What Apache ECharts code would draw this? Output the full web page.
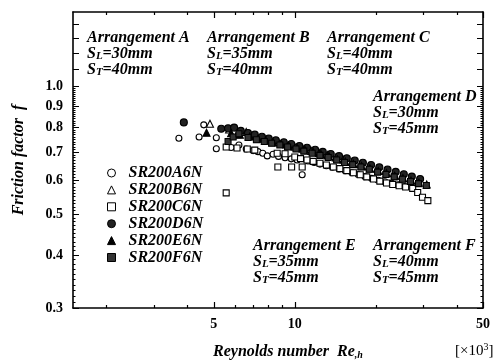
<!DOCTYPE html>
<html><head><meta charset="utf-8">
<script src="https://cdn.jsdelivr.net/npm/echarts@6/dist/echarts.min.js"></script>
<style>html,body{margin:0;padding:0;background:#fff}#c{width:493px;height:361px}</style>
</head><body><div id="c"></div>
<script>
const seriesNames = ['SR200A6N','SR200B6N','SR200C6N','SR200D6N','SR200E6N','SR200F6N'];
// [Re_h (x10^3), friction factor f]
const dataA = [[3.71,0.755],[4.41,0.760],[4.59,0.812],[5.11,0.757],[5.11,0.713],[5.80,0.718],[6.20,0.728],[6.60,0.712],[7.00,0.706],[7.30,0.702],[7.60,0.696],[7.90,0.686],[8.30,0.692],[8.70,0.684],[9.20,0.679],[9.70,0.675],[10.20,0.671],[10.65,0.619],[11.20,0.667],[11.80,0.662],[12.40,0.656],[13.10,0.650],[13.80,0.645],[14.60,0.639],[15.40,0.633],[16.30,0.626],[17.20,0.620],[18.20,0.613],[19.30,0.607],[20.40,0.601],[21.60,0.596],[22.90,0.591],[24.20,0.586],[25.60,0.581]];
const dataB = [[4.84,0.817],[5.70,0.792],[6.10,0.772],[6.60,0.781],[7.10,0.763],[7.60,0.754],[8.10,0.746],[8.70,0.738],[9.30,0.730],[10.00,0.721],[10.70,0.713],[11.50,0.705],[12.30,0.697],[13.20,0.689],[14.20,0.680],[15.20,0.672],[16.30,0.664],[17.50,0.656],[18.80,0.648],[20.20,0.640],[21.70,0.632],[23.30,0.624],[25.00,0.616],[26.80,0.608],[28.70,0.600]];
const dataC = [[5.56,0.561],[5.56,0.720],[6.10,0.716],[6.66,0.712],[7.10,0.708],[8.60,0.696],[9.20,0.694],[8.65,0.646],[9.73,0.646],[10.65,0.646],[10.00,0.682],[10.50,0.676],[11.10,0.671],[11.70,0.666],[12.40,0.659],[13.10,0.653],[13.90,0.646],[14.70,0.640],[15.60,0.633],[16.50,0.626],[17.50,0.619],[18.50,0.612],[19.60,0.605],[20.70,0.598],[21.90,0.592],[23.10,0.587],[24.40,0.583],[25.80,0.579],[27.40,0.575],[28.60,0.562],[29.80,0.548],[31.20,0.538]];
const dataD = [[3.87,0.823],[5.33,0.795],[5.65,0.797],[5.95,0.800],[6.30,0.786],[6.70,0.777],[7.10,0.770],[7.55,0.761],[8.00,0.754],[8.50,0.747],[9.10,0.739],[9.70,0.732],[10.40,0.724],[11.10,0.717],[11.90,0.709],[12.70,0.701],[13.60,0.693],[14.60,0.685],[15.60,0.677],[16.70,0.669],[17.90,0.661],[19.20,0.653],[20.60,0.645],[22.10,0.637],[23.70,0.629],[25.40,0.621],[27.20,0.613],[29.20,0.605]];
const dataE = [[4.70,0.778],[5.80,0.776],[6.25,0.770],[6.80,0.762],[7.30,0.753],[7.80,0.746],[8.30,0.739],[8.90,0.732],[9.50,0.725],[10.20,0.717],[10.90,0.709],[11.70,0.701],[12.50,0.693],[13.40,0.685],[14.40,0.674],[15.40,0.665],[16.50,0.657],[17.70,0.649],[19.00,0.641],[20.40,0.632],[21.90,0.624],[23.50,0.616],[25.20,0.608],[27.00,0.600],[28.90,0.593],[30.90,0.587]];
const dataF = [[5.65,0.742],[5.90,0.760],[6.20,0.774],[6.70,0.758],[7.20,0.749],[7.70,0.742],[8.20,0.735],[8.80,0.728],[9.40,0.720],[10.10,0.712],[10.80,0.704],[11.60,0.696],[12.40,0.688],[13.30,0.680],[14.30,0.671],[15.30,0.662],[16.40,0.654],[17.60,0.646],[18.90,0.638],[20.30,0.628],[21.80,0.620],[23.40,0.612],[25.10,0.604],[26.90,0.597],[28.80,0.590],[30.80,0.584]];

const xLabelValues = [5, 10, 50];
const xMinorTicks = [2, 3, 4, 6, 7, 8, 9, 20, 30, 40];
const yLabelValues = [0.3, 0.4, 0.5, 0.6, 0.7, 0.8, 0.9, 1.0];
const yUpperTicks = [1.1, 1.2, 1.3, 1.4];
const yMinorTicks = [];
for (let i = 31; i < 100; i++) { if (i % 10 !== 0) yMinorTicks.push(i / 100); }

const FF = '"Liberation Serif", "Times New Roman", serif';
const BI16 = 'italic bold 16px ' + FF;
const BI11 = 'italic bold 11px ' + FF;

function xAx(pos, ticks, len, showLine, showLabel) {
  return {type:'log', logBase:10, min:1.5, max:50, position:pos, gridIndex:0,
    axisLine:{show:showLine, onZero:false, lineStyle:{color:'#000', width:1.6}},
    axisTick:{show:true, inside:true, length:len, customValues:ticks, lineStyle:{color:'#000', width:1.2}},
    axisLabel:{show:showLabel, customValues:xLabelValues, margin:9, formatter:v => String(v),
      color:'#000', fontFamily:FF, fontSize:14, fontWeight:'bold'},
    splitLine:{show:false}, minorTick:{show:false}, minorSplitLine:{show:false}};
}
function yAx(pos, ticks, len, showLine, showLabel) {
  return {type:'log', logBase:10, min:0.3, max:1.5, position:pos, gridIndex:0,
    axisLine:{show:showLine, onZero:false, lineStyle:{color:'#000', width:1.6}},
    axisTick:{show:true, inside:true, length:len, customValues:ticks, lineStyle:{color:'#000', width:1}},
    axisLabel:{show:showLabel, customValues:yLabelValues, margin:10, formatter:v => Number(v).toFixed(1),
      color:'#000', fontFamily:FF, fontSize:14, fontWeight:'bold'},
    splitLine:{show:false}, minorTick:{show:false}, minorSplitLine:{show:false}};
}

function block(x, y, title, sl, st) {
  return {type:'text', left:x, top:y, z:10,
    style:{text: title + '\nS{sub|L}=' + sl + 'mm\nS{sub|T}=' + st + 'mm',
      font:BI16, fontFamily:FF, fontSize:16, fontStyle:'italic', fontWeight:'bold', fill:'#000', lineHeight:16,
      rich:{sub:{font:BI11, fontFamily:FF, fontSize:11, fontStyle:'italic', fontWeight:'bold', lineHeight:9, verticalAlign:'bottom', fill:'#000'}}}};
}

function ser(name, data, symbol, size, fill) {
  return {type:'scatter', name:name, data:data, symbol:symbol, symbolSize:size,
    xAxisIndex:0, yAxisIndex:0, animation:false,
    itemStyle:{color:fill, borderColor:'#000', borderWidth:1.1, opacity:1},
    emphasis:{disabled:true}};
}

const chart = echarts.init(document.getElementById('c'), null, {renderer:'canvas'});
chart.setOption({
  animation:false,
  backgroundColor:'#fff',
  grid:{left:73, right:3, top:12, bottom:53, containLabel:false},
  xAxis:[
    xAx('bottom', xLabelValues, 6, true, true),
    xAx('bottom', xMinorTicks, 3, false, false),
    xAx('top', xLabelValues, 6, true, false),
    xAx('top', xMinorTicks, 3, false, false)
  ],
  yAxis:[
    yAx('left', yLabelValues.concat(yUpperTicks), 6, true, true),
    yAx('left', yMinorTicks, 2.5, false, false),
    yAx('right', yLabelValues.concat(yUpperTicks), 6, true, false),
    yAx('right', yMinorTicks, 2.5, false, false)
  ],
  legend:{orient:'vertical', left:102, top:160, itemWidth:8, itemHeight:8, itemGap:0.9,
    selectedMode:false, data:seriesNames,
    itemStyle:{borderWidth:1},
    textStyle:{fontFamily:FF, fontSize:16, fontStyle:'italic', fontWeight:'bold', color:'#000', lineHeight:16, padding:[0,0,0,8]}},
  series:[
    ser(seriesNames[0], dataA, 'circle', 6, '#fff'),
    ser(seriesNames[1], dataB, 'triangle', 7, '#fff'),
    ser(seriesNames[2], dataC, 'rect', 6, '#fff'),
    ser(seriesNames[3], dataD, 'circle', 7, '#222'),
    ser(seriesNames[4], dataE, 'triangle', 7, '#000'),
    ser(seriesNames[5], dataF, 'rect', 6, '#333')
  ],
  graphic:[
    block(87, 30, 'Arrangement A', '30', '40'),
    block(207, 30, 'Arrangement B', '35', '40'),
    block(327, 30, 'Arrangement C', '40', '40'),
    block(373, 89, 'Arrangement D', '30', '45'),
    block(253, 238, 'Arrangement E', '35', '45'),
    block(373, 238, 'Arrangement F', '40', '45'),
    {type:'text', x:19, y:160, rotation:Math.PI/2,
      style:{text:'Friction factor  f', align:'center', verticalAlign:'middle', textAlign:'center', textVerticalAlign:'middle',
        font:BI16, fontFamily:FF, fontSize:16, fontStyle:'italic', fontWeight:'bold', fill:'#000'}},
    {type:'text', left:213, top:343,
      style:{text:'Reynolds number  Re{sub|,h}', font:BI16, fontFamily:FF, fontSize:16, fontStyle:'italic', fontWeight:'bold', fill:'#000', lineHeight:17,
        rich:{sub:{font:'italic bold 10px ' + FF, fontFamily:FF, fontSize:10, fontStyle:'italic', fontWeight:'bold', lineHeight:9, verticalAlign:'bottom', fill:'#000'}}}},
    {type:'text', left:455, top:342,
      style:{text:'[\u00d710{sup|3}]', fontFamily:FF, fontSize:15, fill:'#000', lineHeight:18,
        rich:{sup:{fontFamily:FF, fontSize:10, lineHeight:10, verticalAlign:'top', fill:'#000'}}}}
  ]
});
</script>
</body></html>
